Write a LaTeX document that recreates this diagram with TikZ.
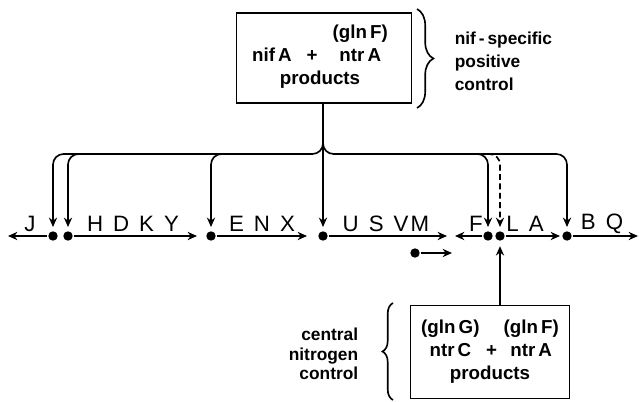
\documentclass[tikz,border=0pt]{standalone}
\usepackage{fontspec}
\setmainfont{Liberation Sans}
\usetikzlibrary{arrows.meta,decorations.pathreplacing}
\newcommand{\gsp}{\hspace{0.45em}}

\begin{document}
\begin{tikzpicture}[x=0.03cm, y=-0.03cm, line width=1.4pt, >={Stealth[length=8pt,width=7pt]},
  dot/.style={circle, fill, inner sep=0pt, minimum size=8pt},
  gene/.style={font=\fontsize{19}{19}\selectfont, inner sep=0pt},
  prod/.style={font=\bfseries\fontsize{16}{19.5}\selectfont, inner sep=0pt},
  side/.style={font=\bfseries\fontsize{14.8}{#1}\selectfont, inner sep=0pt},
  brc/.style={decorate, decoration={brace, amplitude=#1}}]
  \useasboundingbox (0,0) rectangle (639,402);

  % regulator boxes
  \node[draw, minimum width=5.25cm, minimum height=2.7cm] (nifbox) at (324,58) {};
  \node[prod] (niftext) at (320,57) {\begin{tabular}{@{}c@{\hspace{0.8em}}c@{\hspace{0.8em}}c@{}}
    & & (gln\,F)\\ nif\,A & + & ntr\,A\\ \multicolumn{3}{c}{products}\end{tabular}};
  \node[draw, minimum width=4.77cm, minimum height=2.79cm] (ntrbox) at (490,352) {};
  \node[prod] (ntrtext) at (490,352) {\begin{tabular}{@{}c@{\hspace{0.35em}}c@{\hspace{0.35em}}c@{}}
    (gln\,G) & & (gln\,F)\\ ntr\,C & + & ntr\,A\\ \multicolumn{3}{c}{products}\end{tabular}};

  % braces and side notes
  \draw[brc=14pt] (417,9) -- (417,108);
  \node[side=19.5pt, align=left, anchor=west] (niflabel) at (454,61) {nif\,-\,specific\\positive\\control};
  \draw[brc=9pt] (393,400) -- (393,303);
  \node[side=16.5pt, align=right, anchor=east] (ntrlabel) at (359,354) {central\\nitrogen\\control};

  % gene map
  \node[dot] (J) at (53,236) {};
  \node[dot] (H) at (68,236) {};
  \node[dot] (E) at (211,236) {};
  \node[dot] (U) at (323,236) {};
  \node[dot] (F) at (488,236) {};
  \node[dot] (L) at (500,236) {};
  \node[dot] (B) at (567,236) {};
  \node[dot] (s) at (415,253) {};
  \coordinate (Jend) at (8,236);
  \coordinate (Hend) at (197,236);
  \coordinate (Eend) at (307,236);
  \coordinate (Uend) at (447,236);
  \coordinate (Fend) at (455,236);
  \coordinate (Lend) at (560,236);
  \coordinate (Bend) at (638,236);
  \coordinate (send) at (452,253);
  \draw[->] (J) -- (Jend);
  \draw[->] (H) -- (Hend);
  \draw[->] (E) -- (Eend);
  \draw[->] (U) -- (Uend);
  \draw[->] (F) -- (Fend);
  \draw[->] (L) -- (Lend);
  \draw[->] (B) -- (Bend);
  \draw[->] (s) -- (send);

  \node[gene] (gJ) at (30,224) {J};
  \node[gene] (gH) at (133,224) {H\gsp D\gsp K\gsp Y};
  \node[gene] (gE) at (262,224) {E\gsp N\gsp X};
  \node[gene] (gU) at (386,224) {U\gsp S\gsp V\hspace{0.1em}M};
  \node[gene] (gF) at (476,224) {F};
  \node[gene] (gL) at (525,224) {L\gsp A};
  \node[gene] (gB) at (602,224) {B\gsp Q};

  % activation paths
  \coordinate (jn) at (323,154);
  \coordinate (hx) at (95,154);
  \coordinate (ex) at (235,154);
  \coordinate (fx) at (465,154);
  \coordinate (lx) at (478,154);
  \draw[->, shorten >=3pt] (nifbox.south -| U) -- (U);
  \draw[->, shorten >=3pt, rounded corners=9pt] (nifbox.south -| jn) -- (jn) -| (J);
  \draw[->, shorten >=3pt, rounded corners=9pt] (nifbox.south -| jn) -- (jn) -| (B);
  \draw[->, shorten >=3pt, rounded corners=9pt] (hx) -| (H);
  \draw[->, shorten >=3pt, rounded corners=9pt] (ex) -| (E);
  \draw[->, shorten >=3pt, rounded corners=9pt] (fx) -| (F);
  \draw[->, shorten >=3pt, rounded corners=9pt, dash pattern=on 5pt off 3pt] (lx) -| (L);
  \draw[->, shorten >=4pt] (L |- ntrbox.north) -- (L);
\end{tikzpicture}
\end{document}
